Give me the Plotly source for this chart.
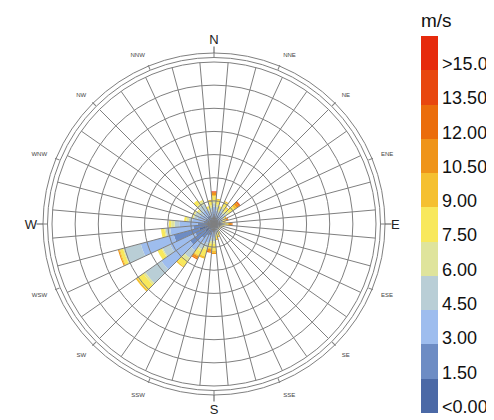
import plotly.graph_objects as go

FONT = "Liberation Sans, Arial, sans-serif"
W, H = 494, 420
OFF = 8  # page body margin
CX, CY = 214 - OFF, 224 - OFF

directions = list(range(0, 360, 10))
speed_labels = ['<0.00', '1.50', '3.00', '4.50', '6.00', '7.50', '9.00', '10.50', '12.00', '13.50', '>15.00']
colors = ['#4b69a6', '#6d8cc4', '#9ebdee', '#b9ced6', '#dfe49c', '#f8e85c',
          '#f5c030', '#ef9419', '#eb6d0b', '#e8470e', '#e62a0c']

# frequency (%) per direction (0,10,...,350 deg) for each speed class
freq_0_15 = [.2, .15, .1, .15, .1, .1, .1, .08, .08, .08, .08, .08, .07, .07, .08, .08, .08, .1,
             .15, .15, .2, .2, .3, .45, .3, .65, .3, .25, .15, .15, .15, .12, .15, .15, .1, .12]
freq_15_30 = [.25, .2, .15, .2, .15, .15, .1, .1, .1, .1, .1, .08, .07, .07, .08, .1, .1, .12,
              .2, .2, .3, .35, .45, .81, .6, 1.15, .6, .45, .3, .25, .25, .2, .25, .25, .15, .18]
freq_30_45 = [.3, .25, .2, .25, .2, .25, .15, .12, .1, .15, .1, .08, .07, .07, .08, .1, .12, .13,
              .25, .25, .35, .4, .65, 1.52, 1.2, 1.48, 1.0, .8, .5, .35, .3, .25, .3, .3, .2, .25]
freq_45_60 = [.15, .15, .1, .15, .15, .15, .1, .08, .07, .1, .07, .05, .05, .05, .05, .07, .08, .1,
              .15, .15, .2, .25, .4, .85, .35, .75, .2, .2, .15, .15, .2, .2, .25, .25, .15, .15]
freq_60_75 = [.1, .1, .1, .1, .1, .15, .05, .05, .05, .07, .05, .03, .02, .02, .03, .05, .06, .07,
              .1, .1, .1, .1, .15, .1, .05, .04, .05, .15, .1, .05, .05, .08, .1, .15, .1, .1]
freq_75_90 = [.2, .2, .15, .2, .15, .3, .05, .05, .05, .1, .05, .03, .02, .02, .03, .07, .1, .12,
              .3, .2, .3, .2, .3, .32, .2, .14, .15, .1, .1, .05, .05, .05, .2, .05, .1, .2]
freq_90_105 = [.05, .05, 0, .05, .05, .1, .05, .05, .05, .05, 0, 0, 0, 0, 0, .03, .06, .06,
               .1, .05, .1, .05, .05, .08, 0, .04, 0, 0, 0, 0, 0, 0, 0, 0, 0, .05]
freq_105_120 = [.1, 0, 0, 0, 0, .12, 0, .07, 0, .1, 0, 0, 0, 0, 0, 0, 0, 0,
                .05, .1, 0, .1, 0, 0, 0, .05, 0, 0, 0, 0, 0, 0, 0, 0, 0, 0]
freq_120_135 = [.03, 0, 0, 0, 0, .05, 0, .03, 0, .05, 0, 0, 0, 0, 0, 0, 0, 0,
                0, .05, 0, .05, 0, 0, 0, 0, 0, 0, 0, 0, 0, 0, 0, 0, 0, 0]
freq_135_150 = [.02, 0, 0, 0, 0, .03, 0, .02, 0, 0, 0, 0, 0, 0, 0, 0, 0, 0,
                0, 0, 0, 0, 0, 0, 0, 0, 0, 0, 0, 0, 0, 0, 0, 0, 0, 0]
freq_150_up = [.02, 0, 0, 0, 0, 0, 0, 0, 0, 0, 0, 0, 0, 0, 0, 0, 0, 0,
               0, 0, 0, 0, 0, 0, 0, 0, 0, 0, 0, 0, 0, 0, 0, 0, 0, 0]

classes = [freq_0_15, freq_15_30, freq_30_45, freq_45_60, freq_60_75, freq_75_90,
           freq_90_105, freq_105_120, freq_120_135, freq_135_150, freq_150_up]

grid_spokes = list(range(5, 360, 10))
compass_major = [0, 90, 180, 270]
compass_major_text = ['N', 'E', 'S', 'W']
compass_minor = [22.5, 45, 67.5, 112.5, 135, 157.5, 202.5, 225, 247.5, 292.5, 315, 337.5]
compass_minor_text = ['NNE', 'NE', 'ENE', 'ESE', 'SE', 'SSE', 'SSW', 'SW', 'WSW', 'WNW', 'NW', 'NNW']
sixteen = [i * 22.5 for i in range(16)]

GRID = '#7f7f7f'


def dom(r):
    return dict(x=[(CX - r) / W, (CX + r) / W], y=[(H - CY - r) / H, (H - CY + r) / H])


fig = go.Figure()

for vals, col, lab in zip(classes, colors, speed_labels):
    fig.add_trace(go.Barpolar(r=vals, theta=directions, width=[10] * len(directions),
                              marker=dict(color=col, line=dict(width=0)), name=lab,
                              showlegend=False, subplot='polar'))

scale = []
for i, c in enumerate(colors):
    scale += [[i / len(colors), c], [(i + 1) / len(colors), c]]

CB_BOTTOM = 413 - OFF  # page px of bar bottom
fig.add_trace(go.Scatterpolar(
    r=[0], theta=[0], mode='markers', subplot='polar', hoverinfo='skip', showlegend=False,
    marker=dict(size=0, color=[0], colorscale=scale, cmin=0, cmax=len(colors), showscale=True,
                colorbar=dict(x=(421 - OFF) / W, xanchor='left', xpad=0,
                              y=(H - CB_BOTTOM) / H, yanchor='bottom', ypad=0,
                              len=403, lenmode='pixels', thickness=17, thicknessmode='pixels',
                              outlinewidth=0, tickvals=[i + 0.19 for i in range(len(colors))],
                              ticktext=speed_labels, ticks='',
                              tickfont=dict(size=18, color='#111', family=FONT),
                              title=dict(text='m/s', side='top',
                                         font=dict(size=19, color='#111', family=FONT))))))

for sp in ['polar2', 'polar3', 'polar4', 'polar5', 'polar6']:
    fig.add_trace(go.Scatterpolar(r=[0], theta=[0], mode='markers', marker=dict(size=0, opacity=0),
                                  subplot=sp, hoverinfo='skip', showlegend=False))

common_ang = dict(direction='clockwise', rotation=90)

fig.update_layout(
    width=W, height=H, margin=dict(l=0, r=0, t=0, b=0, autoexpand=False),
    paper_bgcolor='white', font=dict(family=FONT),
    polar=dict(domain=dom(162), bgcolor='white', barmode='stack',
               radialaxis=dict(range=[0, 7], visible=False),
               angularaxis=dict(visible=False, **common_ang)),
    polar2=dict(domain=dom(162), bgcolor='rgba(0,0,0,0)',
                radialaxis=dict(range=[0, 7], dtick=1, tick0=0, showgrid=True, gridcolor=GRID,
                                gridwidth=1, showticklabels=False, ticks='', showline=False),
                angularaxis=dict(tickvals=grid_spokes, showgrid=True, gridcolor=GRID, gridwidth=1,
                                 showticklabels=False, ticks='', showline=True, linecolor=GRID,
                                 linewidth=1, **common_ang)),
    polar3=dict(domain=dom(166.5), bgcolor='rgba(0,0,0,0)',
                radialaxis=dict(range=[0, 1], visible=False),
                angularaxis=dict(tickvals=sixteen, showgrid=False, showticklabels=False,
                                 ticks='outside', ticklen=5, tickcolor=GRID, showline=True,
                                 linecolor=GRID, linewidth=1, **common_ang)),
    polar4=dict(domain=dom(171), bgcolor='rgba(0,0,0,0)',
                radialaxis=dict(range=[0, 1], visible=False),
                angularaxis=dict(tickvals=compass_major, showgrid=False, showticklabels=False,
                                 ticks='outside', ticklen=6, tickcolor='#555', showline=True,
                                 linecolor=GRID, linewidth=1, **common_ang)),
    polar6=dict(domain=dom(171), bgcolor='rgba(0,0,0,0)',
                radialaxis=dict(range=[0, 1], visible=False),
                angularaxis=dict(tickvals=compass_major, ticktext=compass_major_text, showgrid=False,
                                 ticks='outside', ticklen=3, tickcolor='rgba(0,0,0,0)', showline=False,
                                 tickfont=dict(size=13, color='#222', family=FONT), **common_ang)),
    polar5=dict(domain=dom(171), bgcolor='rgba(0,0,0,0)',
                radialaxis=dict(range=[0, 1], visible=False),
                angularaxis=dict(tickvals=compass_minor, ticktext=compass_minor_text, showgrid=False,
                                 ticks='outside', ticklen=8, tickcolor='rgba(0,0,0,0)', showline=False,
                                 tickfont=dict(size=6, color='#444', family=FONT), **common_ang)),
)

fig.write_html("out.html")
